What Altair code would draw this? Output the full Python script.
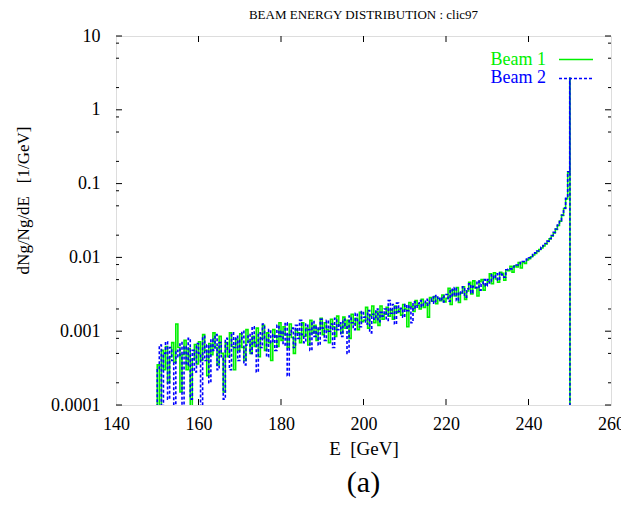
import altair as alt
import pandas as pd

# Histogram bins: 0.5 GeV wide, starting at 150 GeV (values in units of 1e-3 /GeV)
E_START = 150.0
BIN_WIDTH = 0.5

beam1 = [
    0.35, 0.08, 0.55, 0.30, 0.62, 0.20, 0.45, 0.70, 0.38, 1.25,
    0.60, 0.15, 0.48, 0.75, 0.30, 0.58, 0.05, 0.42, 0.66, 0.36,
    0.72, 0.40, 0.90, 0.55, 0.25, 0.68, 0.48, 0.95, 0.60, 0.35,
    0.85, 0.50, 0.15, 0.70, 0.45, 0.95, 0.62, 0.30, 0.78, 0.55,
    0.92, 0.60, 0.40, 1.05, 0.72, 0.50, 0.85, 0.62, 1.10, 0.45,
    0.80, 1.20, 0.55, 0.95, 0.70, 0.40, 1.05, 0.85, 0.62, 1.30,
    0.75, 1.15, 0.90, 0.60, 1.25, 0.82, 0.50, 1.05, 0.95, 0.70,
    1.30, 0.85, 1.10, 0.65, 1.40, 0.95, 1.20, 0.75, 1.05, 1.50,
    0.90, 1.30, 1.05, 0.70, 1.45, 1.15, 0.85, 1.60, 1.20, 0.95,
    1.55, 1.10, 1.40, 0.80, 1.70, 1.25, 1.50, 1.05, 1.80, 1.35,
    1.40, 2.10, 1.10, 1.65, 2.20, 1.30, 1.85, 1.20, 2.20, 1.45,
    1.70, 2.10, 1.60, 1.95, 1.45, 2.20, 1.80, 2.00, 1.65, 2.30,
    2.00, 1.15, 2.45, 2.15, 1.85, 2.60, 2.25, 2.00, 2.70, 2.10,
    2.40, 1.55, 2.85, 2.55, 2.95, 2.35, 2.80, 2.60, 3.10, 2.50,
    2.80, 3.80, 2.30, 3.60, 3.00, 3.90, 2.45, 3.30, 4.00, 2.70,
    3.50, 4.60, 3.20, 4.80, 3.85, 3.00, 4.70, 5.00, 3.60, 4.30,
    4.70, 6.00, 4.40, 6.20, 5.10, 4.60, 6.30, 6.10, 4.90, 6.80,
    6.60, 7.60, 6.30, 7.70, 7.40, 8.50, 7.20, 8.60, 8.30, 9.20,
    9.60, 10.2, 10.8, 11.3, 12.0, 12.8, 13.4, 14.3, 15.2, 16.4,
    17.8, 19.5, 21.5, 24.0, 27.0, 31.0, 37.0, 46.0, 62.0, 140.0,
]
beam1_peak = 2700.0

beam2 = [
    0.30, 0.65, 0.05, 0.50, 0.72, 0.12, 0.60, 0.40, 0.05, 0.55,
    0.45, 0.70, 0.08, 0.62, 0.35, 0.80, 0.12, 0.55, 0.28, 0.68,
    0.50, 0.06, 0.85, 0.40, 0.65, 0.20, 0.78, 0.55, 0.90, 0.30,
    0.70, 0.45, 0.12, 0.80, 0.55, 0.30, 0.95, 0.60, 0.85, 0.40,
    0.75, 1.00, 0.35, 0.65, 0.90, 0.50, 1.15, 0.70, 0.28, 0.95,
    0.60, 1.25, 0.80, 0.45, 1.05, 0.70, 0.90, 0.55, 1.20, 0.85,
    1.00, 0.65, 1.30, 0.25, 0.90, 1.10, 0.60, 1.20, 0.80, 1.40,
    0.90, 0.70, 1.25, 1.05, 0.55, 1.35, 0.85, 1.15, 0.65, 1.45,
    1.10, 0.75, 1.40, 1.00, 1.25, 0.60, 1.50, 1.05, 1.30, 0.85,
    1.45, 1.20, 0.50, 1.60, 1.30, 1.05, 1.75, 1.40, 1.15, 1.85,
    1.55, 1.25, 1.90, 0.95, 1.70, 1.45, 2.00, 1.35, 1.80, 1.60,
    2.00, 1.40, 2.60, 1.75, 2.30, 1.25, 2.40, 1.85, 2.05, 1.55,
    2.30, 1.90, 2.20, 1.30, 2.50, 2.05, 2.35, 2.60, 2.15, 2.45,
    2.70, 2.25, 2.55, 2.90, 2.40, 3.05, 2.65, 2.85, 2.50, 3.00,
    3.15, 2.55, 3.70, 3.00, 3.90, 2.60, 3.40, 3.20, 4.00, 2.90,
    3.75, 4.40, 3.30, 4.05, 3.90, 4.80, 3.60, 4.35, 5.00, 4.10,
    5.00, 4.50, 5.80, 5.20, 6.00, 4.90, 6.20, 5.80, 5.40, 6.80,
    6.90, 7.00, 7.40, 7.60, 7.90, 8.20, 8.50, 8.80, 9.10, 9.50,
    9.90, 10.4, 10.9, 11.5, 12.2, 12.9, 13.7, 14.5, 15.4, 16.6,
    18.0, 19.8, 21.8, 24.3, 27.5, 31.5, 37.5, 46.5, 63.0, 145.0,
]
beam2_peak = 2650.0

x_ticks = [160, 180, 200, 220, 240]
x_labels = [140, 160, 180, 200, 220, 240, 260]
y_major = [1e-4, 1e-3, 1e-2, 1e-1, 1, 10]
y_minor = [k * 10.0 ** d for d in range(-4, 1) for k in (2, 5, 8)]

GREEN = "#00f000"
BLUE = "#0000ff"
FONT = "Liberation Serif"
FLOOR = 5e-5  # below the plotted range (clipped)

W, H = 495, 369


def beam_frame(vals, peak):
    rows = [(E_START, FLOOR)]
    for i, v in enumerate(vals):
        rows.append((E_START + i * BIN_WIDTH, v * 1e-3))
    end = E_START + len(vals) * BIN_WIDTH
    rows.append((end, peak * 1e-3))
    rows.append((end + 0.05, FLOOR))
    return pd.DataFrame({"E": [r[0] for r in rows], "v": [r[1] for r in rows],
                         "i": list(range(len(rows)))})


xscale = alt.Scale(domain=[140, 260], nice=False, zero=False)
yscale = alt.Scale(type="log", domain=[1e-4, 10], nice=False)

x_axis = alt.Axis(values=x_labels, ticks=False, domain=False, grid=False,
                  labelFont=FONT, labelFontSize=18, labelColor="black",
                  labelPadding=10, title="E\u00a0\u00a0[GeV]", titleFont=FONT,
                  titleFontSize=19, titleFontWeight="normal", titleColor="black",
                  titlePadding=6, labelFlush=False)
y_axis = alt.Axis(values=y_major, format="~g", ticks=False, domain=False, grid=False,
                  labelFont=FONT, labelFontSize=18, labelColor="black",
                  labelPadding=16, title="dNg/Ng/dE\u00a0\u00a0\u00a0[1/GeV]",
                  titleFont=FONT, titleFontSize=17, titleFontWeight="normal",
                  titleColor="black", titleX=-93, titleY=164, titleAngle=270,
                  titleAlign="center", titleBaseline="middle", labelFlush=False)

X = alt.X("E:Q", scale=xscale, axis=x_axis)
Y = alt.Y("v:Q", scale=yscale, axis=y_axis)

LW = 1.6
line1 = alt.Chart(beam_frame(beam1, beam1_peak)).mark_line(
    interpolate="step-after", clip=True, strokeWidth=LW, color=GREEN
).encode(x=X, y=Y, order="i:Q")
line2 = alt.Chart(beam_frame(beam2, beam2_peak)).mark_line(
    interpolate="step-after", clip=True, strokeWidth=LW, color=BLUE,
    strokeDash=[3, 2]
).encode(x=X, y=Y, order="i:Q")

xt = pd.DataFrame({"E": x_ticks})
xtick_bottom = alt.Chart(xt).mark_rule(color="black", strokeWidth=1).encode(
    x=X, y=alt.value(H), y2=alt.value(H - 6))
xtick_top = alt.Chart(xt).mark_rule(color="black", strokeWidth=1).encode(
    x=X, y=alt.value(0), y2=alt.value(6))

ym = pd.DataFrame({"v": y_major})
yn = pd.DataFrame({"v": y_minor})


def ytick(df, x0, x1):
    return alt.Chart(df).mark_rule(color="black", strokeWidth=1).encode(
        y=Y, x=alt.value(x0), x2=alt.value(x1))


ticks = [ytick(ym, 0, 6), ytick(ym, W - 6, W), ytick(yn, 0, 3), ytick(yn, W - 3, W)]

leg1 = pd.DataFrame({"label": ["Beam 1"]})
leg2 = pd.DataFrame({"label": ["Beam 2"]})
leg_t1 = alt.Chart(leg1).mark_text(align="right", baseline="middle", font=FONT,
                                   fontSize=18, color=GREEN).encode(
    text="label:N", x=alt.value(430), y=alt.value(24))
leg_t2 = alt.Chart(leg2).mark_text(align="right", baseline="middle", font=FONT,
                                   fontSize=18, color=BLUE).encode(
    text="label:N", x=alt.value(430), y=alt.value(42))
leg_l1 = alt.Chart(leg1).mark_rule(color=GREEN, strokeWidth=LW).encode(
    x=alt.value(443), x2=alt.value(477), y=alt.value(23.5))
leg_l2 = alt.Chart(leg2).mark_rule(color=BLUE, strokeWidth=LW,
                                   strokeDash=[3, 2]).encode(
    x=alt.value(443), x2=alt.value(477), y=alt.value(42.5))

panel = pd.DataFrame({"label": ["(a)"]})
panel_t = alt.Chart(panel).mark_text(align="center", baseline="middle", font=FONT,
                                     fontSize=30, color="black").encode(
    text="label:N", x=alt.value(W / 2), y=alt.value(447))

chart = alt.layer(
    line1, line2, xtick_bottom, xtick_top, *ticks,
    leg_t1, leg_t2, leg_l1, leg_l2, panel_t,
).properties(
    width=W, height=H,
    title=alt.TitleParams("BEAM ENERGY DISTRIBUTION : clic97", font=FONT, fontSize=13,
                          fontWeight="normal", color="black", anchor="middle",
                          baseline="bottom", offset=-8),
    autosize=alt.AutoSizeParams(type="none"),
    padding={"left": 108, "top": 28, "right": 10, "bottom": 94},
).configure_view(stroke="black", strokeWidth=1).configure(background="white")

chart.save("out.html", embed_options={"renderer": "svg", "actions": False})
